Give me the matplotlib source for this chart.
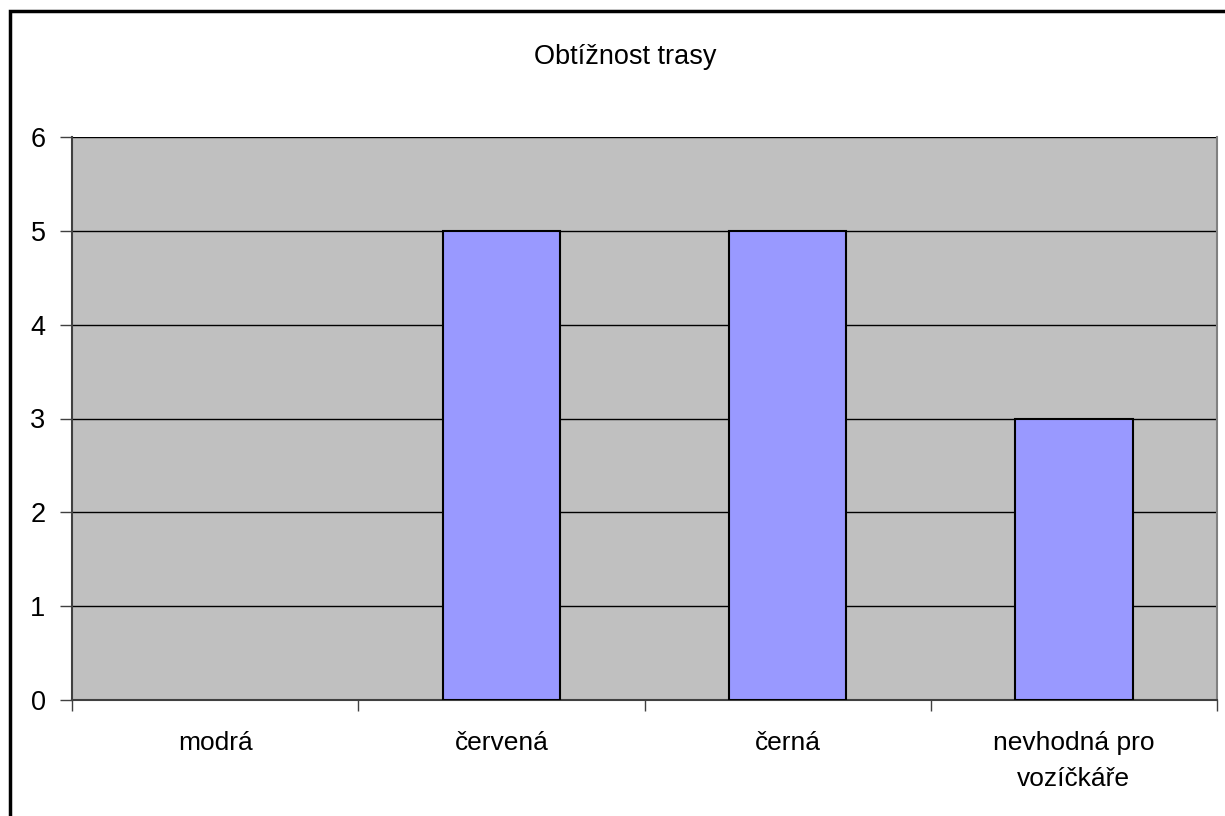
import matplotlib
matplotlib.use('Agg')
import matplotlib.pyplot as plt
from matplotlib.patches import Rectangle

plt.rcParams['font.family'] = ['Liberation Sans', 'DejaVu Sans']

# data
categories = ['modrá', 'červená', 'černá', 'nevhodná pro\nvozíčkáře']
values = [0, 5, 5, 3]
title = 'Obtížnost trasy'

W, H = 1225, 816
fig = plt.figure(figsize=(W / 100, H / 100), dpi=100)
ax = fig.add_axes([72 / W, 1 - 700 / H, (1217 - 72) / W, (700 - 137) / H])
ax.set_facecolor('#c0c0c0')

x = list(range(len(categories)))
# empty categories get no outline (Excel draws nothing there)
lws = [1.5 if v else 0 for v in values]
ax.bar(x, values, width=0.41, color='#9999ff', edgecolor='black', linewidth=lws, zorder=3)

ax.set_xlim(-0.5, len(categories) - 0.5)
ax.set_ylim(0, 6)
ax.set_yticks(range(0, 7))
ax.yaxis.grid(True, color='black', linewidth=1, zorder=1)
ax.set_axisbelow(True)

# category labels between boundary ticks
ax.set_xticks([i - 0.5 for i in range(len(categories) + 1)])
ax.set_xticklabels([])
ax.set_xticks(x, minor=True)
ax.set_xticklabels(categories, minor=True, fontsize=19, linespacing=1.65)
ax.tick_params(axis='x', which='minor', length=0, pad=22)
ax.tick_params(axis='x', which='major', length=8, color='#404040', width=1)
ax.tick_params(axis='y', length=9, color='#404040', width=1, labelsize=19.5, pad=10)

for s in ['left', 'bottom']:
    ax.spines[s].set_color('#404040')
    ax.spines[s].set_linewidth(1.5)
ax.spines['top'].set_visible(False)
ax.spines['right'].set_color('#808080')
ax.spines['right'].set_linewidth(1.5)

fig.text(625 / W, 1 - 57 / H, title, ha='center', va='center', fontsize=19.5)

# outer border of the chart area
fig.patches.append(Rectangle((10 / W, -0.1), 1.2, 1 - 11 / H + 0.1, transform=fig.transFigure,
                             fill=False, edgecolor='black', linewidth=2.5))

fig.savefig('out.png', dpi=100)
